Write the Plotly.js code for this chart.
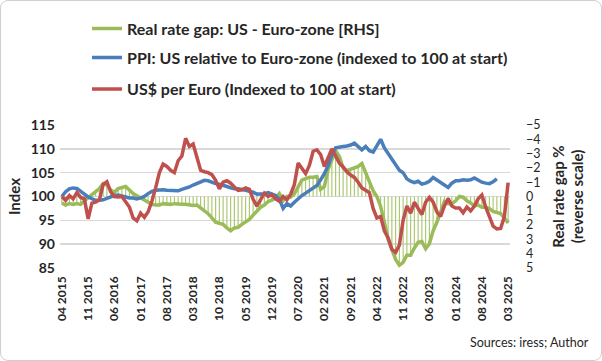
<!DOCTYPE html>
<html><head><meta charset="utf-8">
<script src="https://cdn.plot.ly/plotly-3.0.1.min.js"></script>
<style>
html,body{margin:0;padding:0;background:#fff;}
#wrap{position:relative;width:602px;height:361px;}
#frame{position:absolute;left:0;top:0;width:600px;height:359px;border:1px solid #cfcfcf;border-radius:8px;pointer-events:none;}
</style>
</head><body>
<div id="wrap"><div id="chart" style="width:602px;height:361px"></div><div id="frame"></div></div>
<script>
// Monthly categories Apr 2015 .. Mar 2025
const startYear = 2015, startMonth = 4, nMonths = 120;
const months = [];
for (let k = 0; k < nMonths; k++) {
  const m = (startMonth - 1 + k) % 12 + 1;
  const y = startYear + Math.floor((startMonth - 1 + k) / 12);
  months.push((m < 10 ? '0' : '') + m + ' ' + y);
}
const tickLabels = ['04 2015','11 2015','06 2016','01 2017','08 2017','03 2018','10 2018','05 2019','12 2019',
  '07 2020','02 2021','09 2021','04 2022','11 2022','06 2023','01 2024','08 2024','03 2025'];

// US$ per Euro (indexed to 100 at start)
const usdPerEuro = [
  100, 99.2, 100.2, 99.5, 100.8, 99.8, 99.5, 95.3, 98.6, 98.8, 99.3, 102.5, 103.1, 101.0, 100.0, 99.9,
  100.0, 99.0, 97.8, 95.5, 94.9, 96.5, 95.6, 96.8, 99.0, 101.8, 105.0, 106.8, 106.3, 105.5, 105.0,
  107.5, 108.5, 112.2, 110.5, 111.0, 108.0, 105.5, 105.2, 105.0, 104.6, 103.4, 101.6, 103.0, 103.3, 102.8,
  102.0, 101.3, 101.4, 101.8, 101.5, 99.4, 98.0, 99.5, 100.7, 100.0, 100.4, 99.5, 99.0, 100.0, 99.3,
  100.5, 102.5, 107.0, 106.0, 104.8, 106.5, 109.5, 109.8, 108.8, 106.3, 108.0, 110.0, 108.5, 107.0, 106.2,
  105.2, 104.5, 104.0, 103.0, 101.8, 101.3, 100.8, 97.5, 95.5, 95.8, 92.8, 91.3, 88.9, 88.3, 89.8, 95.0,
  98.0, 96.5, 98.8, 97.5, 96.2, 98.8, 99.8, 98.8, 96.8, 95.8, 98.0, 99.6, 98.0, 97.6, 97.6, 96.6,
  97.8, 97.0, 98.0, 99.5, 100.3, 97.8, 96.0, 93.8, 93.2, 93.3, 95.8, 102.9
];

// PPI: US relative to Euro-zone (indexed to 100 at start)
const ppiRel = [
  100.0, 101.0, 101.6, 101.8, 101.7, 101.2, 100.5, 99.9, 99.5, 99.2, 99.2, 99.3, 99.6, 100.0, 100.2, 100.3,
  100.1, 99.8, 99.7, 99.7, 99.5, 99.7, 100.0, 100.6, 101.1, 101.3, 101.4, 101.4, 101.3, 101.3, 101.2,
  101.2, 101.5, 101.7, 102.0, 102.4, 102.7, 103.1, 103.4, 103.3, 102.9, 102.7, 102.6, 102.4, 102.1, 101.8,
  101.6, 101.6, 101.5, 101.3, 101.1, 100.9, 100.5, 100.5, 100.6, 100.8, 100.5, 100.2, 99.4, 97.5, 98.5,
  98.0, 98.8, 99.6, 100.2, 100.7, 101.2, 101.6, 102.3, 103.5, 104.8, 106.5, 108.8, 110.2, 110.4, 110.5,
  110.6, 110.8, 111.2, 110.6, 109.8, 110.5, 109.6, 109.3, 110.8, 112.0, 110.2, 109.0, 108.0, 106.6, 105.5, 105.0,
  103.7, 103.2, 102.9, 103.2, 102.6, 102.8, 103.2, 104.0, 103.5, 102.9, 102.5, 101.9, 102.8, 103.3, 103.3, 103.5,
  103.4, 103.5, 103.9, 103.4, 103.0, 102.8, 102.7, 103.1, 103.7, null, null, null
];

// Real rate gap: US - Euro-zone (%), plotted on reversed right axis
const rateGap = [
  0.45, 0.6, 0.5, 0.55, 0.5, 0.55, 0.3, 0.1, -0.1, -0.3, -0.55, -0.9, -0.8, -0.45, -0.3, -0.55,
  -0.65, -0.7, -0.45, -0.2, -0.05, 0.1, 0.2, 0.4, 0.55, 0.6, 0.6, 0.5, 0.55, 0.55, 0.5,
  0.55, 0.55, 0.55, 0.6, 0.62, 0.6, 0.8, 1.0, 1.2, 1.5, 1.8, 1.88, 1.95, 2.2, 2.4,
  2.2, 2.15, 1.95, 1.75, 1.6, 1.3, 1.0, 0.75, 0.6, 0.35, 0.25, 0.1, -0.2, 0.3, 0.0,
  0.05, -0.2, -0.7, -1.15, -1.25, -1.35, -1.35, -1.4, -0.5, -0.7, -1.9, -2.6, -3.2, -2.8, -2.0,
  -1.8, -1.9, -2.0, -2.1, -2.3, -1.7, -1.0, -0.4, 0.0, 0.7, 1.8, 3.0, 3.7, 4.4, 4.8, 4.6,
  4.1, 4.1, 3.6, 3.2, 3.15, 3.65, 3.3, 2.4, 1.8, 1.1, 0.35, 0.5, 0.5, 0.3, 0.0, 0.05,
  0.3, 0.45, 0.65, 0.6, 0.75, 0.75, 0.85, 1.05, 1.1, 1.2, 1.5, 1.85
];

const FONT = 'Lato, "Open Sans", sans-serif';
const TXT = '#262626';
const GREEN = '#9BBB59', BLUE = '#4A7EBB', RED = '#C0504D';

const traces = [
  {type:'bar', x: months, y: rateGap, yaxis:'y', marker:{color:'#A8C66C'}, width:0.3,
   showlegend:false, hoverinfo:'skip'},
  {type:'scatter', mode:'lines', x: months, y: rateGap, yaxis:'y', name:'Real rate gap: US - Euro-zone [RHS]',
   line:{color:GREEN, width:3.5}, legend:'legend'},
  {type:'scatter', mode:'lines', x: months, y: ppiRel, yaxis:'y2', name:'PPI: US relative to Euro-zone (indexed to 100 at start)',
   line:{color:BLUE, width:3.5}, legend:'legend2', connectgaps:false},
  {type:'scatter', mode:'lines', x: months, y: usdPerEuro, yaxis:'y2', name:'US$ per Euro (Indexed to 100 at start)',
   line:{color:RED, width:3.5}, legend:'legend3'}
];

const legendBase = {xanchor:'left', yanchor:'middle', bgcolor:'rgba(0,0,0,0)',
  font:{family:FONT, size:16, color:TXT, weight:'bold'}};

const layout = {
  width:602, height:361,
  margin:{l:60, r:92, t:114, b:93},
  paper_bgcolor:'#fff', plot_bgcolor:'#fff',
  showlegend:true,
  bargap:0.7,
  xaxis:{type:'category', range:[-0.5, 119.5], tickmode:'array', tickvals:tickLabels, ticktext:tickLabels,
    tickangle:-90, tickfont:{family:FONT, size:12, color:TXT, weight:'bold'}, showgrid:false, zeroline:false,
    showline:false, ticks:'', ticklabelstandoff:5},
  yaxis:{side:'right', range:[5,-5], dtick:1, tick0:0, showgrid:false, zeroline:false, showline:false, ticks:'',
    tickfont:{family:FONT, size:12.5, color:TXT}, ticklabelstandoff:15,
    title:{text:'Real rate gap %<br>(reverse scale)', font:{family:FONT, size:15, color:TXT, weight:'bold'}, standoff:13}},
  yaxis2:{side:'left', overlaying:'y', range:[85,115], dtick:5, showgrid:true, gridcolor:'#d9d9d9', gridwidth:1.5,
    zeroline:false, showline:false, ticks:'', tickfont:{family:FONT, size:14, color:TXT, weight:'bold'},
    ticklabelstandoff:4,
    title:{text:'Index', font:{family:FONT, size:15, color:TXT, weight:'bold'}, standoff:6}},
  legend: Object.assign({}, legendBase, {x:0.06, y:1.675}),
  legend2: Object.assign({}, legendBase, {x:0.06, y:1.471}),
  legend3: Object.assign({}, legendBase, {x:0.06, y:1.251}),
  annotations:[{xref:'paper', yref:'paper', x:1.18, y:-0.52, xanchor:'right', yanchor:'middle',
    text:'Sources: iress; Author', showarrow:false, font:{family:FONT, size:12.5, color:TXT}}]
};

Plotly.newPlot('chart', traces, layout, {displayModeBar:false, staticPlot:true});
</script>
</body></html>
